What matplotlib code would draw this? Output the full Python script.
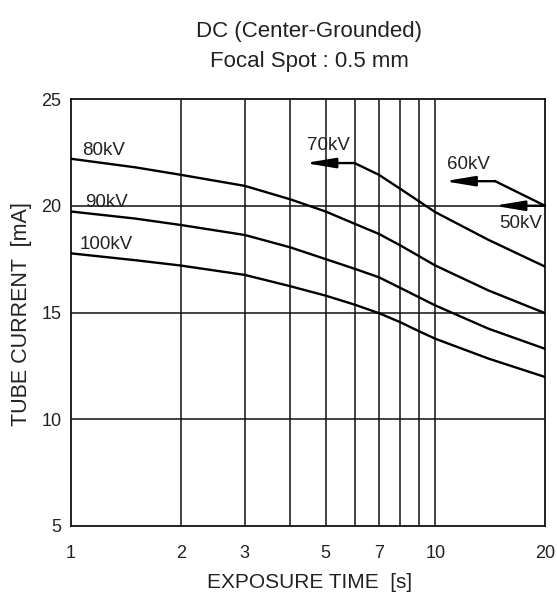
import matplotlib
matplotlib.use("Agg")
import matplotlib.pyplot as plt

plt.rcParams['font.family'] = ['Liberation Sans', 'DejaVu Sans']

# Data
t_main = [1, 1.5, 2, 3, 4, 5, 6, 7, 8, 9, 10, 14, 20]
i_80kv = [22.2, 21.8, 21.45, 20.93, 20.3, 19.73, 19.16, 18.68, 18.15, 17.65, 17.2, 16.03, 14.97]
i_90kv = [19.73, 19.4, 19.1, 18.63, 18.05, 17.5, 17.05, 16.65, 16.16, 15.72, 15.33, 14.24, 13.3]
i_100kv = [17.77, 17.45, 17.2, 16.76, 16.23, 15.79, 15.37, 14.97, 14.55, 14.13, 13.77, 12.84, 11.98]
t_70kv = [6, 7, 8, 9, 10, 14, 20]
i_70kv = [22.0, 21.45, 20.8, 20.22, 19.7, 18.4, 17.15]
t_60kv = [14.6, 20]
i_60kv = [21.15, 20.0]

# arrows: (start_x, tip_x, y)
arrow_70kv = (6.0, 4.39, 22.0)
arrow_60kv = (14.6, 10.6, 21.15)
arrow_50kv = (20.0, 14.5, 20.0)

x_ticks = [1, 2, 3, 4, 5, 6, 7, 8, 9, 10, 20]
x_labels = ['1', '2', '3', '', '5', '', '7', '', '', '10', '20']
y_ticks = [5, 10, 15, 20, 25]

labels = [
    ("80kV", 1.232, 22.57),
    ("90kV", 1.252, 20.16),
    ("100kV", 1.248, 18.18),
    ("70kV", 5.08, 22.8),
    ("60kV", 12.29, 21.94),
    ("50kV", 17.19, 19.18),
]

fig = plt.figure(figsize=(5.57, 5.96), dpi=100)
ax = fig.add_axes([71/557, 70/596, 474/557, 427/596])
ax.set_xscale('log')
ax.set_xlim(1, 20)
ax.set_ylim(5, 25)

for v in x_ticks[1:-1]:
    ax.axvline(v, color='#111111', lw=1.1, zorder=1)
for v in [10, 15, 20]:
    ax.axhline(v, color='#111111', lw=1.1, zorder=1)

ax.set_xticks(x_ticks)
ax.set_xticklabels(x_labels)
ax.xaxis.set_minor_locator(matplotlib.ticker.NullLocator())
ax.set_yticks(y_ticks)
ax.tick_params(axis='x', length=0, pad=14, labelsize=13, colors='#222222')
ax.tick_params(axis='y', length=0, pad=7, labelsize=13, colors='#222222')
for s in ax.spines.values():
    s.set_linewidth(1.3)
    s.set_color('#111111')

lw = 1.7
ax.plot(t_main, i_80kv, color='black', lw=lw, zorder=3)
ax.plot(t_main, i_90kv, color='black', lw=lw, zorder=3)
ax.plot(t_main, i_100kv, color='black', lw=lw, zorder=3)
ax.plot(t_70kv, i_70kv, color='black', lw=lw, zorder=3)
ax.plot(t_60kv, i_60kv, color='black', lw=lw, zorder=3)

for x0, x1, y in [arrow_70kv, arrow_60kv, arrow_50kv]:
    ax.annotate('', xy=(x1, y), xytext=(x0, y),
                arrowprops=dict(arrowstyle='-|>,head_length=1.8,head_width=0.3',
                                mutation_scale=10, lw=lw, color='black',
                                shrinkA=0, shrinkB=0),
                zorder=4)

for txt, x, y in labels:
    ax.text(x, y, txt, ha='center', va='center', fontsize=13.5, color='#222222', zorder=5)

fig.text(309/557, 1 - 31/596, 'DC (Center-Grounded)', ha='center', va='center',
         fontsize=16, color='#222222')
fig.text(309/557, 1 - 61/596, 'Focal Spot : 0.5 mm', ha='center', va='center',
         fontsize=16, color='#222222')
fig.text(310/557, 1 - 582/596, 'EXPOSURE TIME  [s]', ha='center', va='center',
         fontsize=15, color='#222222')
fig.text(22/557, 1 - 314/596, 'TUBE CURRENT  [mA]', ha='center', va='center',
         rotation=90, fontsize=15.5, color='#222222')

fig.savefig('out.png', dpi=100)
